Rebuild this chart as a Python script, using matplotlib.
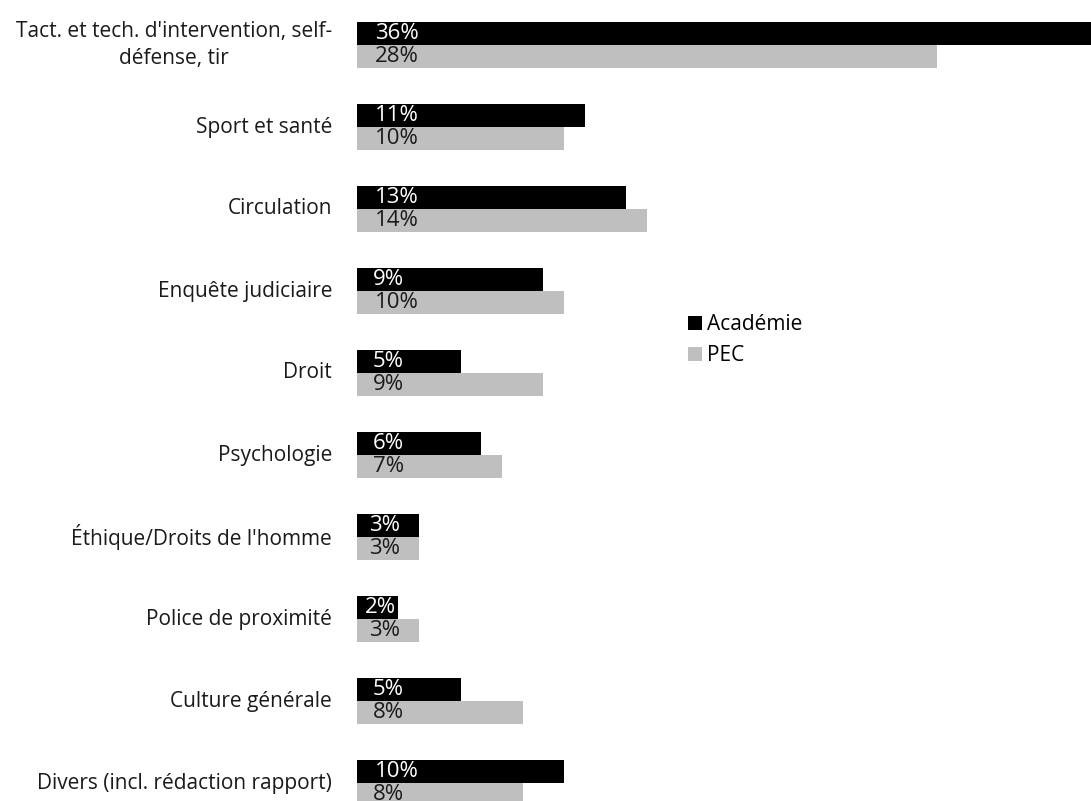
import matplotlib
matplotlib.use("Agg")
import matplotlib.pyplot as plt
import matplotlib.transforms as mtransforms
from matplotlib.patches import Patch
from matplotlib import font_manager

categories = [
    "Tact. et tech. d'intervention, self-\ndéfense, tir",
    "Sport et santé",
    "Circulation",
    "Enquête judiciaire",
    "Droit",
    "Psychologie",
    "Éthique/Droits de l'homme",
    "Police de proximité",
    "Culture générale",
    "Divers (incl. rédaction rapport)",
]
academie = [36, 11, 13, 9, 5, 6, 3, 2, 5, 10]
pec = [28, 10, 14, 10, 9, 7, 3, 3, 8, 8]
series_names = ["Académie", "PEC"]
colors = ["#000000", "#BFBFBF"]

avail = {f.name for f in font_manager.fontManager.ttflist}
fam = [f for f in ["Open Sans", "DejaVu Sans"] if f in avail]
plt.rcParams['font.family'] = fam
FS = 15
FS_BAR = 16

PX_PER_UNIT = 20.7
fig = plt.figure(figsize=(10.91, 8.01), dpi=100)
ax = fig.add_axes([357 / 1091, 0, 1 - 357 / 1091, 1])

bh = 23 / 82
n = len(categories)
ys = list(range(n))
ax.barh([y - bh / 2 for y in ys], academie, height=bh, color=colors[0], linewidth=0)
ax.barh([y + bh / 2 for y in ys], pec, height=bh, color=colors[1], linewidth=0)

ax.set_xlim(0, (1091 - 357) / PX_PER_UNIT)
ax.set_ylim((801 - 45) / 82, -45 / 82)
ax.axis('off')

def off(v):
    o = min(16, 0.2 * v * PX_PER_UNIT)
    if v >= 10:
        o += 2
    return o * 0.72  # px -> points

for y, a, p in zip(ys, academie, pec):
    ax.annotate(f"{a}%", (0, y - bh / 2), xytext=(off(a), 0), textcoords='offset points',
                ha='left', va='center', color='white', fontsize=FS_BAR)
    ax.annotate(f"{p}%", (0, y + bh / 2), xytext=(off(p), 0), textcoords='offset points',
                ha='left', va='center', color='#1a1a1a', fontsize=FS_BAR)

trans = mtransforms.blended_transform_factory(fig.transFigure, ax.transData)
for y, c in zip(ys, categories):
    fig.text(332 / 1091, y, c, transform=trans, ha='right', va='center',
             multialignment='center', fontsize=FS, color='#1a1a1a', linespacing=1.35)

handles = [Patch(facecolor=colors[0]), Patch(facecolor=colors[1])]
fig.legend(handles, series_names, loc='upper left', bbox_to_anchor=(688 / 1091, 1 - 314 / 801),
           frameon=False, fontsize=FS, handlelength=0.68, handleheight=0.68, handletextpad=0.25,
           labelspacing=0.5, borderpad=0, borderaxespad=0)

fig.savefig("out.png", dpi=100)
